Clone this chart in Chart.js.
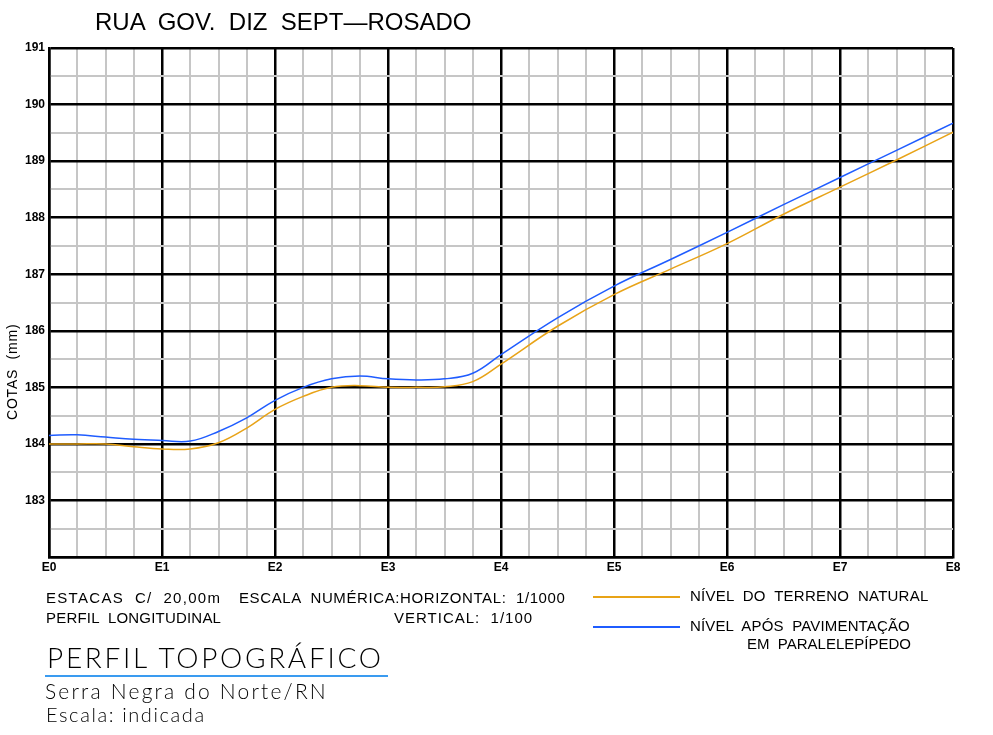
<!DOCTYPE html>
<html lang="pt">
<head>
<meta charset="UTF-8">
<title>Perfil Topográfico - Rua Gov. Diz Sept-Rosado</title>
<script src="https://cdn.jsdelivr.net/npm/chart.js"></script>
<style>
    body { margin: 0; background: #ffffff; font-family: "Liberation Sans", Arial, sans-serif; color: #000; }
    #wrap { position: relative; width: 993px; height: 735px; overflow: hidden; }
    canvas { position: absolute; left: 0; top: 0; }
    .txt { position: absolute; white-space: pre; line-height: 1; }
    .thin { font-weight: 300; font-family: Lato, "Open Sans", sans-serif; }
    .leg-line { position: absolute; height: 1.5px; }
</style>
</head>
<body>
<div id="wrap">
    <canvas id="perfil" width="993" height="735"></canvas>

    <div class="txt" style="left:95px;top:10px;font-size:24px;">RUA  GOV.  DIZ  SEPT—ROSADO</div>
    <div class="txt" style="left:5px;top:420px;font-size:14px;letter-spacing:0.8px;transform:rotate(-90deg);transform-origin:0 0;">COTAS  (mm)</div>

    <div class="txt" style="left:46px;top:590px;font-size:15px;letter-spacing:1.3px;">ESTACAS  C/  20,00m</div>
    <div class="txt" style="left:239px;top:590px;font-size:15px;letter-spacing:0.6px;">ESCALA  NUMÉRICA:HORIZONTAL:  1/1000</div>
    <div class="txt" style="left:46px;top:610px;font-size:15px;letter-spacing:0.2px;">PERFIL  LONGITUDINAL</div>
    <div class="txt" style="left:394px;top:610px;font-size:15px;letter-spacing:1px;">VERTICAL:  1/100</div>

    <div class="leg-line" style="left:593px;top:596px;width:87px;background:#e8a317;"></div>
    <div class="txt" style="left:690px;top:588px;font-size:15px;letter-spacing:0.23px;">NÍVEL  DO  TERRENO  NATURAL</div>
    <div class="leg-line" style="left:593px;top:626px;width:87px;background:#1f5cff;"></div>
    <div class="txt" style="left:690px;top:618px;font-size:15px;letter-spacing:0.15px;">NÍVEL  APÓS  PAVIMENTAÇÃO</div>
    <div class="txt" style="left:747px;top:636px;font-size:15px;">EM  PARALELEPÍPEDO</div>

    <div class="txt thin" style="left:47px;top:643px;font-size:28px;letter-spacing:2.7px;">PERFIL TOPOGRÁFICO</div>
    <div style="position:absolute;left:45px;top:675px;width:343px;height:1.5px;background:#3a9bf0;"></div>
    <div class="txt thin" style="left:45px;top:680px;font-size:21px;letter-spacing:2.2px;">Serra Negra do Norte/RN</div>
    <div class="txt thin" style="left:46px;top:704px;font-size:20px;letter-spacing:1.6px;">Escala: indicada</div>
</div>

<script>
    // estacas (posição em E, a cada 20,00m)
    const estacas = [0, 0.25, 0.5, 0.75, 1, 1.25, 1.5, 1.75, 2, 2.25, 2.5, 2.75, 3, 3.25, 3.5, 3.75, 4, 4.5, 5, 5.5, 6, 6.5, 7, 7.5, 8];
    const rotulosEstacas = ['E0', 'E1', 'E2', 'E3', 'E4', 'E5', 'E6', 'E7', 'E8'];

    const terrenoNatural = [184.00, 184.00, 184.00, 183.95, 183.91, 183.91, 184.02, 184.28, 184.61, 184.84, 185.00, 185.03, 185.00, 185.00, 185.01, 185.10, 185.41, 186.08, 186.64, 187.09, 187.54, 188.06, 188.54, 189.02, 189.51];
    const aposPavimentacao = [184.15, 184.16, 184.12, 184.08, 184.06, 184.05, 184.22, 184.46, 184.77, 185.00, 185.15, 185.20, 185.15, 185.13, 185.15, 185.25, 185.58, 186.23, 186.79, 187.26, 187.74, 188.23, 188.71, 189.19, 189.67];

    const cotaMin = 182;
    const cotaMax = 191;

    const toPoints = (ys) => estacas.map((x, i) => ({ x: x, y: ys[i] }));
    const isMajor = (v) => Math.abs(v - Math.round(v)) < 1e-6;

    const ctx = document.getElementById('perfil').getContext('2d');
    new Chart(ctx, {
        type: 'line',
        data: {
            datasets: [
                {
                    label: 'NÍVEL DO TERRENO NATURAL',
                    data: toPoints(terrenoNatural),
                    borderColor: '#e8a317',
                    borderWidth: 1.5,
                    pointRadius: 0,
                    tension: 0.4,
                    fill: false
                },
                {
                    label: 'NÍVEL APÓS PAVIMENTAÇÃO EM PARALELEPÍPEDO',
                    data: toPoints(aposPavimentacao),
                    borderColor: '#1f5cff',
                    borderWidth: 1.5,
                    pointRadius: 0,
                    tension: 0.4,
                    fill: false
                }
            ]
        },
        options: {
            responsive: false,
            animation: false,
            events: [],
            layout: {
                autoPadding: false,
                padding: { left: 0, top: 48, right: 40, bottom: 0 }
            },
            plugins: {
                legend: { display: false },
                tooltip: { enabled: false }
            },
            scales: {
                x: {
                    type: 'linear',
                    min: 0,
                    max: 8,
                    afterFit: (scale) => { scale.height = 735 - 557; },
                    afterBuildTicks: (scale) => {
                        const t = [];
                        for (let v = 0; v <= 8.0001; v += 0.25) t.push({ value: v });
                        scale.ticks = t;
                    },
                    ticks: {
                        autoSkip: false,
                        maxRotation: 0,
                        padding: 3,
                        color: '#000',
                        font: { family: 'Liberation Sans, Arial, sans-serif', size: 12, weight: 'bold' },
                        callback: (v) => isMajor(v) ? rotulosEstacas[Math.round(v)] : ''
                    },
                    grid: {
                        drawTicks: false,
                        color: (c) => isMajor(c.tick.value) ? '#000000' : '#c6c6c6',
                        lineWidth: (c) => isMajor(c.tick.value) ? 2.5 : 2
                    },
                    border: { color: '#000', width: 2.5 }
                },
                y: {
                    min: cotaMin,
                    max: cotaMax,
                    afterFit: (scale) => { scale.width = 49; },
                    afterBuildTicks: (scale) => {
                        const t = [];
                        for (let v = cotaMin; v <= cotaMax + 0.0001; v += 0.5) t.push({ value: v });
                        scale.ticks = t;
                    },
                    ticks: {
                        autoSkip: false,
                        padding: 4,
                        color: '#000',
                        font: { family: 'Liberation Sans, Arial, sans-serif', size: 12, weight: 'bold' },
                        callback: (v) => (isMajor(v) && v > cotaMin) ? String(Math.round(v)) : ''
                    },
                    grid: {
                        drawTicks: false,
                        color: (c) => isMajor(c.tick.value) ? '#000000' : '#c6c6c6',
                        lineWidth: (c) => isMajor(c.tick.value) ? 2.5 : 2
                    },
                    border: { color: '#000', width: 2.5 }
                }
            }
        }
    });
</script>
</body>
</html>
